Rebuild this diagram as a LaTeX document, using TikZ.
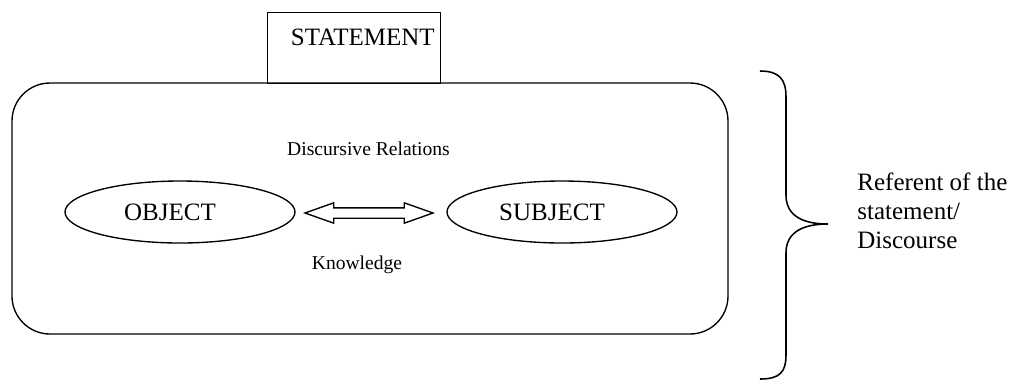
\documentclass[tikz,border=0pt]{standalone}
\usepackage{fontspec}
\setmainfont{Liberation Serif}
\usetikzlibrary{shapes.geometric,shapes.arrows,calc}
\tikzset{
  ln/.style={line width=0.65pt},
  bigtext/.style={font=\fontsize{12}{13.92}\selectfont},
  smalltext/.style={font=\fontsize{9.4}{11}\selectfont, inner sep=0pt},
  stmtbox/.style={ln, draw, rectangle, bigtext, inner ysep=0pt, inner xsep=2.88pt,
    text width=77.28pt, align=right, text height=15.84pt, text depth=18.24pt},
  framebox/.style={ln, draw, rectangle, rounded corners=18.24pt, inner sep=0pt,
    minimum width=343.68pt, minimum height=120.48pt},
  oval/.style={ln, draw, ellipse, bigtext, inner sep=0pt, minimum width=110.4pt,
    minimum height=29.76pt, execute at begin node={\hspace*{-9.6pt}}},
  dblarrow/.style={ln, draw, fill=white, double arrow, double arrow tip angle=39,
    double arrow head extend=2.4pt, inner xsep=0pt, inner ysep=2.16pt,
    text height=0pt, text depth=0pt, minimum height=61.44pt},
  brace/.style={line width=0.75pt}
}
\begin{document}
\begin{tikzpicture}[x=0.48pt,y=-0.48pt]
\useasboundingbox (0,0) rectangle (1015,381);
\node[framebox] (frame) at (370,208.5) {};
\node[stmtbox, anchor=north west] (stmt) at (267,12) {STATEMENT};
\node[smalltext, anchor=base] (rel) at (368.5,155) {Discursive Relations};
\node[oval] (obj) at (180,212) {OBJECT};
\node[oval] (subj) at (562,212) {SUBJECT};
\node[dblarrow] (arr) at (369,213) {};
\node[smalltext, anchor=base] (know) at (357,269) {Knowledge};
\coordinate (bt) at (760,71);
\coordinate (bm) at (828,224);
\coordinate (bb) at (760,379);
\draw[brace] (bt) .. controls (780,71) and (786,80) .. (786,97) -- (786,195)
  .. controls (786,214) and (800,224) .. (bm)
  .. controls (800,224) and (786,234) .. (786,253) -- (786,355)
  .. controls (786,372) and (780,379) .. (bb);
\node[bigtext, anchor=base west, align=left, inner sep=0pt] (ref) at (857,248)
  {Referent of the\\statement/\\Discourse};
\end{tikzpicture}
\end{document}
